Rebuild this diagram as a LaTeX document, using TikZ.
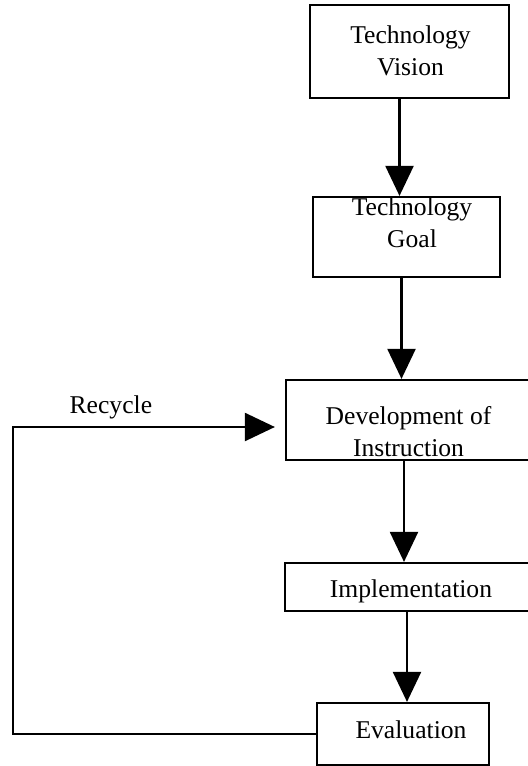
\documentclass[tikz,border=0pt]{standalone}
\usepackage{fontspec}
\setmainfont{Liberation Serif}
\usetikzlibrary{arrows.meta}

\begin{document}
\begin{tikzpicture}[
  x=0.5pt, y=-0.5pt,
  font=\fontsize{12.8}{16}\selectfont,
  >={Triangle[width=14pt,length=15pt]},
  box/.style={draw, line width=1.1pt, inner sep=0pt},
  boxtext/.style={align=center, inner sep=0pt},
  flow/.style={->, line width=1.1pt}
]
\path[use as bounding box] (0,0) rectangle (527,766);

% stages
\node[box, minimum width=99.5pt, minimum height=46.5pt] (vision) at (409.5,51.5) {};
\node[box, minimum width=93.5pt, minimum height=40pt] (goal) at (406.5,237) {};
\node[box, minimum width=124pt, minimum height=40pt] (dev) at (410,420) {};
\node[box, minimum width=126pt, minimum height=24pt] (impl) at (411,587) {};
\node[box, minimum width=86pt, minimum height=31pt] (eval) at (403,734) {};

\node[boxtext] (vision-t) at (410.5,50.5) {Technology\\Vision};
\node[boxtext] (goal-t) at (412,223) {Technology\\Goal};
\node[boxtext] (dev-t) at (408.5,432) {Development of\\Instruction};
\node[boxtext] (impl-t) at (411,591) {Implementation};
\node[boxtext] (eval-t) at (411,730) {Evaluation};

% main flow
\draw[flow] ([xshift=-5pt]vision.south) -- ([xshift=-5pt]vision.south |- goal.north);
\draw[flow] ([xshift=-2.5pt]goal.south) -- ([xshift=-2.5pt]goal.south |- dev.north);
\draw[flow] ([xshift=-3pt]dev.south) -- ([xshift=-3pt]dev.south |- impl.north);
\draw[flow] ([xshift=-2pt]impl.south) -- ([xshift=-2pt]impl.south |- eval.north);

% feedback loop
\coordinate (loop) at (13,734);
\draw[flow, shorten >=5pt] (eval.west) -- (loop)
  |- node[pos=0.68, above] (recycle) {Recycle} ([yshift=-3.5pt]dev.west);
\end{tikzpicture}
\end{document}
